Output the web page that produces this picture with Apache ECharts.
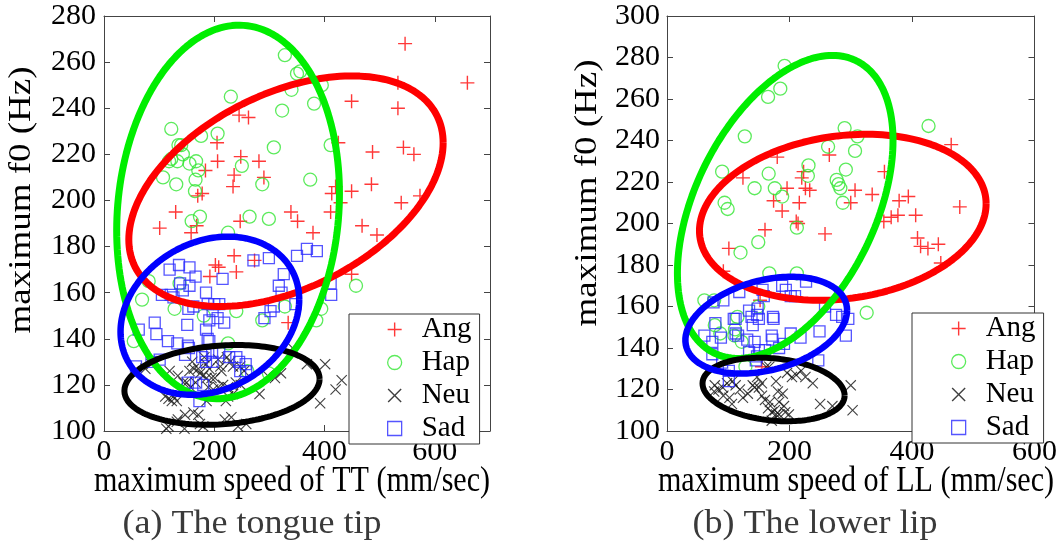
<!DOCTYPE html>
<html><head><meta charset="utf-8">
<script src="https://cdn.jsdelivr.net/npm/echarts@6/dist/echarts.min.js"></script>
<style>html,body{margin:0;padding:0;background:#fff}#c{width:1060px;height:548px}</style>
</head><body><div id="c"></div>
<script>
// ---------- data ----------
const classes = ['Ang', 'Hap', 'Neu', 'Sad'];

// (a) tongue tip: [max speed of TT (mm/sec), max f0 (Hz)]
const angL = [[546,268],[659,251],[533,251],[533,240],[449,243],[245,237],[262,236],[205,225],[425,225],[248,219],[206,217],[281,217],[184,213],[236,211],[290,210],[234,206],[170,202],[178,203],[487,221],[543,223],[562,220],[485,207],[420,206],[413,203],[449,204],[539,199],[573,202],[429,199],[339,195],[351,191],[411,195],[130,195],[101,188],[247,191],[468,189],[495,185],[379,186],[158,186],[168,189],[236,176],[202,172],[208,171],[192,167],[240,169],[273,174],[334,147],[449,168]];
const hapL = [[328,263],[350,255],[356,256],[395,250],[340,248],[381,242],[323,239],[230,245],[122,231],[135,224],[140,224],[176,228],[206,229],[308,223],[411,224],[118,217],[122,218],[133,217],[143,220],[155,216],[167,217],[171,213],[107,210],[131,207],[166,209],[165,204],[250,215],[287,207],[374,209],[264,193],[299,192],[174,193],[159,191],[225,186],[81,165],[137,164],[69,157],[128,153],[181,150],[240,152],[287,148],[328,154],[394,153],[385,148],[457,163],[54,139],[225,138],[260,126],[299,125]];
const neuL = [[368,129],[401,129],[431,122],[420,118],[392,112],[321,125],[310,123],[297,124],[342,136],[282,116],[247,128],[254,126],[223,132],[229,130],[234,128],[207,131],[211,128],[213,126],[182,132],[185,129],[191,127],[160,130],[163,127],[171,127],[174,125],[155,126],[134,124],[119,126],[144,121],[150,121],[157,119],[166,121],[180,124],[186,123],[195,123],[201,123],[189,119],[198,118],[207,119],[216,120],[225,119],[239,121],[248,120],[225,115],[234,116],[186,113],[192,115],[221,113],[117,114],[126,115],[132,113],[123,113],[111,115],[86,129],[75,127],[162,108],[171,107],[147,107],[134,105],[219,105],[231,106],[258,103],[243,102],[132,104],[117,102],[174,103],[180,102],[146,101],[113,101]];
const sadL = [[350,176],[368,179],[386,178],[299,175],[271,174],[326,168],[215,166],[119,170],[136,172],[155,171],[166,167],[155,163],[138,164],[143,161],[105,159],[121,159],[126,158],[185,160],[153,153],[162,154],[188,155],[200,155],[209,155],[317,163],[322,160],[308,154],[291,149],[302,152],[411,164],[412,159],[347,155],[197,152],[191,148],[206,149],[218,147],[63,144],[92,147],[95,142],[151,146],[185,144],[116,139],[133,138],[188,140],[191,139],[152,137],[154,136],[147,133],[178,132],[184,133],[196,134],[209,134],[227,132],[240,132],[245,130],[257,129],[185,130],[197,130],[247,126],[258,126],[86,130],[101,131],[58,128],[152,121],[167,121],[180,120],[173,113]];

// (b) lower lip: [max speed of LL (mm/sec), max f0 (Hz)]
const angR = [[464,238],[478,208],[355,225],[307,216],[300,210],[335,214],[379,211],[394,213],[354,201],[366,203],[377,204],[406,204],[124,222],[180,232],[265,233],[223,225],[220,222],[226,217],[233,216],[196,217],[174,211],[188,206],[216,210],[211,201],[214,200],[160,197],[258,195],[409,193],[414,189],[426,188],[443,190],[447,181],[101,188],[92,177],[152,163],[155,131]];
const hapR = [[192,276],[185,265],[165,261],[127,242],[90,225],[94,210],[99,207],[143,217],[166,224],[176,217],[188,213],[231,228],[230,223],[263,237],[290,246],[311,242],[307,235],[292,226],[277,221],[280,219],[283,217],[287,210],[427,247],[212,198],[120,186],[149,191],[167,176],[212,176],[61,163],[77,163],[149,160],[115,155],[78,151],[87,147],[111,149],[110,146],[122,143],[128,131],[326,157]];
const neuR = [[78,122],[77,119],[84,120],[91,121],[98,123],[92,117],[102,116],[106,113],[107,124],[112,122],[119,120],[124,116],[132,118],[140,122],[143,121],[147,126],[150,121],[155,123],[155,117],[160,115],[168,114],[162,131],[167,131],[165,111],[171,109],[176,110],[178,124],[181,119],[189,118],[196,128],[204,126],[211,127],[219,129],[226,126],[238,123],[183,114],[191,112],[178,108],[183,108],[193,109],[199,108],[171,105],[250,113],[270,112],[300,122],[303,110]];
const sadR = [[118,167],[156,168],[158,165],[188,170],[194,168],[202,165],[209,165],[227,172],[258,160],[276,156],[286,155],[296,154],[292,146],[249,148],[218,145],[202,147],[191,142],[183,140],[171,146],[173,155],[174,154],[148,159],[147,156],[150,154],[134,158],[138,155],[140,151],[109,154],[112,154],[112,147],[116,146],[76,162],[92,163],[79,152],[61,146],[74,143],[88,145],[131,144],[143,143],[134,138],[150,139],[160,139],[172,144],[147,136],[145,134],[74,137],[90,133],[101,129],[247,134],[101,124]];

// class ellipses: [centre x, centre y, half x-extent, half y-extent, y-offset of the rightmost point] (data units)
const ellAngL = [330, 204, 285, 50, 21];
const ellHapL = [225, 195, 202, 81, 8];
const ellNeuL = [214, 120, 177, 17.3, 2.6];
const ellSadL = [192, 150, 162, 34.3, 7];
const ellAngR = [287, 203, 234, 40, 6.5];
const ellHapR = [193, 208, 176, 73, 32];
const ellNeuR = [174, 120, 116, 15.3, -2.9];
const ellSadR = [162, 151, 132, 23.3, 7.2];

// axes
const xRangeL = [0, 700], yRangeL = [100, 280];
const xRangeR = [0, 600], yRangeR = [100, 300];
const xStep = 200, yStep = 20;
const xNameL = 'maximum speed of TT (mm/sec)';
const xNameR = 'maximum speed of LL (mm/sec)';
const yName = 'maximum f0 (Hz)';
const captionL = '(a) The tongue tip';
const captionR = '(b) The lower lip';

// ---------- styles ----------
const SERIF = '"Liberation Serif", "Times New Roman", serif';
const PLUS = 'path://M0,6.3H14V7.7H0Z M6.3,0H7.7V14H6.3Z';
const CROSS = 'path://M1,0L7,6L13,0L14,1L8,7L14,13L13,14L7,8L1,14L0,13L6,7L0,1Z';
const markStyle = {
  Ang: { symbol: PLUS, symbolSize: 14, itemStyle: { color: '#ff2222', opacity: 0.9 } },
  Hap: { symbol: 'circle', symbolSize: 13, itemStyle: { color: 'rgba(0,0,0,0)', borderColor: '#33e633', borderWidth: 1.3 } },
  Neu: { symbol: CROSS, symbolSize: 11, itemStyle: { color: '#111' } },
  Sad: { symbol: 'rect', symbolSize: 11, itemStyle: { color: 'rgba(0,0,0,0)', borderColor: '#2a2aff', borderWidth: 1.3 } }
};
const ellColor = { Ang: '#ff0000', Hap: '#00ee00', Neu: '#000000', Sad: '#0000ff' };
const ellWidth = { Ang: 7, Hap: 7, Neu: 6, Sad: 6.5 };

function ellipse(p) {
  const [cx, cy, rx, ry, k] = p;
  const c = Math.sqrt(ry * ry - k * k);
  const pts = [];
  for (let i = 0; i <= 180; i++) {
    const t = i / 180 * 2 * Math.PI;
    pts.push([cx + rx * Math.cos(t), cy + k * Math.cos(t) + c * Math.sin(t)]);
  }
  return pts;
}

const panels = [
  { pts: { Ang: angL, Hap: hapL, Neu: neuL, Sad: sadL }, ell: { Ang: ellAngL, Hap: ellHapL, Neu: ellNeuL, Sad: ellSadL } },
  { pts: { Ang: angR, Hap: hapR, Neu: neuR, Sad: sadR }, ell: { Ang: ellAngR, Hap: ellHapR, Neu: ellNeuR, Sad: ellSadR } }
];

const axLine = { show: true, onZero: false, lineStyle: { color: '#444', width: 1 } };
const axTick = { show: true, inside: true, length: 6, lineStyle: { color: '#444', width: 1 } };
const labelStyle = { fontFamily: SERIF, fontSize: 30, color: '#000' };

function xAxes(grid, range) {
  return [
    { type: 'value', gridIndex: grid, position: 'bottom', min: range[0], max: range[1], interval: xStep,
      axisLine: axLine, axisTick: axTick, splitLine: { show: false },
      axisLabel: Object.assign({ margin: 6, showMaxLabel: range[1] % xStep === 0 }, labelStyle) },
    { type: 'value', gridIndex: grid, position: 'top', min: range[0], max: range[1], interval: xStep,
      axisLine: axLine, axisTick: axTick, splitLine: { show: false }, axisLabel: { show: false } }
  ];
}
function yAxes(grid, range, margin) {
  return [
    { type: 'value', gridIndex: grid, position: 'left', min: range[0], max: range[1], interval: yStep,
      axisLine: axLine, axisTick: axTick, splitLine: { show: false },
      axisLabel: Object.assign({ margin: margin }, labelStyle) },
    { type: 'value', gridIndex: grid, position: 'right', min: range[0], max: range[1], interval: yStep,
      axisLine: axLine, axisTick: axTick, splitLine: { show: false }, axisLabel: { show: false } }
  ];
}

const series = [];
panels.forEach((p, g) => {
  classes.forEach(cls => {
    const m = markStyle[cls];
    series.push({ name: cls, type: 'scatter', xAxisIndex: g * 2, yAxisIndex: g * 2, data: p.pts[cls],
      symbol: m.symbol, symbolSize: m.symbolSize, itemStyle: m.itemStyle, silent: true, z: 2 });
  });
  classes.forEach((cls, i) => {
    series.push({ type: 'line', xAxisIndex: g * 2, yAxisIndex: g * 2, data: ellipse(p.ell[cls]),
      showSymbol: false, symbol: 'none', silent: true, clip: false, z: 3 + i,
      lineStyle: { color: ellColor[cls], width: ellWidth[cls] } });
  });
});

function legendAt(left, top, padLeft) {
  return {
    left: left, top: top, orient: 'vertical', selectedMode: false,
    itemWidth: 14, itemHeight: 14, itemGap: 4,
    padding: [1, 8, 1, padLeft], borderColor: '#333', borderWidth: 1, backgroundColor: '#fff',
    textStyle: { fontFamily: SERIF, fontSize: 29, color: '#000', lineHeight: 24, padding: [0, 0, 0, 15] },
    data: classes.map(cls => ({ name: cls, icon: markStyle[cls].symbol, itemStyle: markStyle[cls].itemStyle }))
  };
}

// text drawn as real text; the reference's lettering is slightly narrowed, hence the scale
function txt(x, y, text, size, rot, color, squeeze) {
  const s = squeeze || 1;
  return { type: 'text', x: x, y: y, rotation: rot || 0, silent: true,
    scaleX: rot ? 1 : s, scaleY: rot ? s : 1,
    style: { text: text, fontFamily: SERIF, fontSize: size, fill: color || '#000',
      align: 'center', verticalAlign: 'middle', textAlign: 'center', textVerticalAlign: 'middle' } };
}

const option = {
  animation: false,
  backgroundColor: '#fff',
  grid: [
    { left: 104, top: 16, width: 386, height: 415 },
    { left: 667, top: 16, width: 387, height: 415 }
  ],
  xAxis: [...xAxes(0, xRangeL), ...xAxes(1, xRangeR)],
  yAxis: [...yAxes(0, yRangeL, 8), ...yAxes(1, yRangeR, 7)],
  legend: [legendAt(349, 314, 38), legendAt(912, 313, 39)],
  series: series,
  graphic: [
    txt(292, 482, xNameL, 35, 0, '#000', 0.86),
    txt(856, 482, xNameR, 35, 0, '#000', 0.86),
    txt(22, 200, yName, 37, Math.PI / 2, '#000', 0.86),
    txt(588, 193, yName, 37, Math.PI / 2, '#000', 0.86),
    txt(252, 524, captionL, 34, 0, '#3a3a3a', 1.06),
    txt(815, 524, captionR, 34, 0, '#3a3a3a', 1.06)
  ]
};

const chart = echarts.init(document.getElementById('c'), null, { renderer: 'canvas' });
chart.setOption(option);
</script>
</body></html>
